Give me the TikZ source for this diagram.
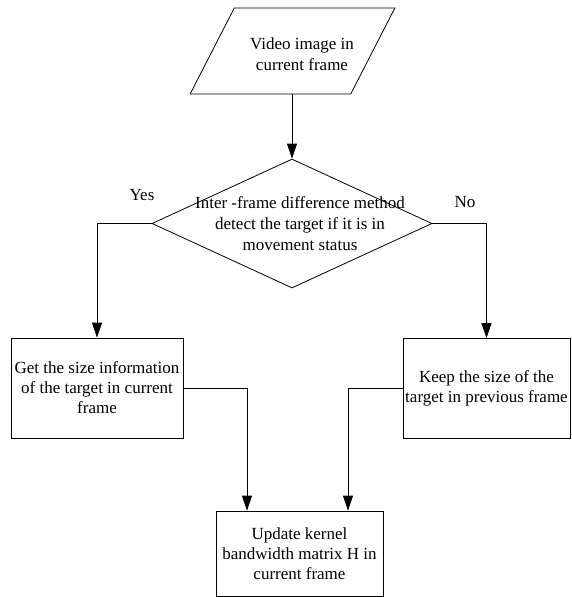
\documentclass[tikz,border=0pt]{standalone}
\usepackage{fontspec}
\setmainfont{Liberation Serif}
\usetikzlibrary{shapes.geometric,arrows.meta}

\begin{document}
\begin{tikzpicture}[x=1pt,y=-1pt,line width=0.8pt,
                    font=\fontsize{17}{21}\selectfont,
                    io node/.style={trapezium,draw,trapezium left angle=68,trapezium right angle=112,
                                    trapezium stretches=true,minimum width=205pt,minimum height=86pt,inner sep=1pt},
                    decision node/.style={diamond,draw,minimum width=280pt,minimum height=129pt,inner sep=0pt},
                    process node/.style={rectangle,draw,align=center,inner sep=0pt,font=\fontsize{17}{20}\selectfont},
                    text node/.style={align=center,inner sep=0pt},
                    flow/.style={-{Triangle[length=15pt,width=10pt]}}]

        \useasboundingbox (0,0) rectangle (571,597);

        % Define vertices
        \node[io node] (video) at (292.5,51) {\phantom{V}};
        \node[text node] (video text) at (302,54) {Video image in\\current frame};
        \node[decision node] (detect) at (292,223.5) {};
        \node[text node] (detect text) at (300,223.5) {Inter -frame difference method\\detect the target if it is in\\movement status};
        \node[process node,minimum width=172pt,minimum height=100pt] (get size) at (97,388) {Get the size information\\of the target in current\\frame};
        \node[process node,minimum width=167pt,minimum height=100pt] (keep size) at (486.5,388.5) {Keep the size of the\\target in previous frame};
        \node[process node,minimum width=167pt,minimum height=85pt] (update) at (299.5,553.5) {Update kernel\\bandwidth matrix H in\\current frame};
        \node[text node] (yes) at (142,195) {Yes};
        \node[text node] (no) at (465,202) {No};

        % Define edges
        \draw[flow] (video.south -| detect.north) -- (detect.north);
        \draw[flow] (detect.west) -| (get size.north);
        \draw[flow] (detect.east) -| (keep size.north);
        \draw[flow] (get size.east) -| ([xshift=-52.5pt]update.north);
        \draw[flow] (keep size.west) -| ([xshift=48.5pt]update.north);
\end{tikzpicture}
\end{document}
